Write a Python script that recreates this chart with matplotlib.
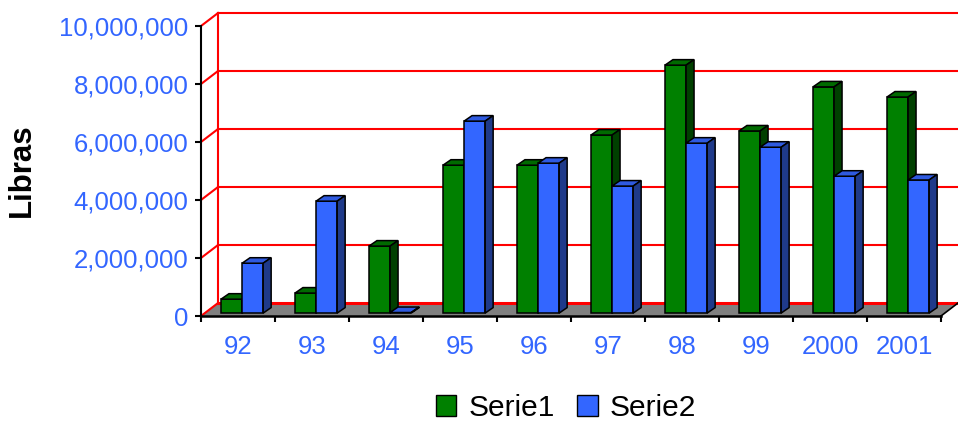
import numpy as np
import matplotlib.pyplot as plt
from matplotlib.patches import Polygon, Patch

plt.rcParams['font.family'] = ['Liberation Sans', 'DejaVu Sans']

# data (values in millions of libras)
years = ['92', '93', '94', '95', '96', '97', '98', '99', '2000', '2001']
serie1 = [0.48, 0.69, 2.31, 5.10, 5.10, 6.14, 8.55, 6.28, 7.80, 7.45]
serie2 = [1.72, 3.86, 0.02, 6.62, 5.17, 4.38, 5.86, 5.72, 4.72, 4.59]
yticks = [0, 2, 4, 6, 8, 10]

# fake 3d geometry (data units: 1 category wide, 1 = 1,000,000)
wall_dx, wall_dy = 0.23, 0.448   # back wall offset
bar_dx, bar_dy = 0.108, 0.19      # bar depth
off_dx, off_dy = 0.05, 0.1        # bars sit a bit behind the front edge
bar_w = 0.285
bar_x0 = 0.22

green = ('#008000', '#006a00', '#004000')   # front, top, side
blue = ('#3366ff', '#2f5ae0', '#1f3a8a')
lblue = '#3366ff'

fig = plt.figure(figsize=(9.58, 4.25), dpi=100)
ax = fig.add_axes([201/958, 109/425, 757/958, 306/425])
n = len(years)
ax.set_xlim(0, n + wall_dx)
ax.set_ylim(0, 306/29)

# floor
ax.add_patch(Polygon([(0, 0), (n, 0), (n + wall_dx, wall_dy), (wall_dx, wall_dy)],
                     closed=True, fc='#808080', ec='none', zorder=1))
ax.plot([n, n + wall_dx], [0, wall_dy], color='black', lw=1.2, zorder=2)

# back wall grid + left wall diagonals
for v in yticks:
    ax.plot([wall_dx, n + wall_dx + 0.1], [v + wall_dy, v + wall_dy], color='red',
            lw=2.2 if v == 0 else 1.5, zorder=1.5, clip_on=False)
    ax.plot([0, wall_dx], [v, v + wall_dy], color='red', lw=1.5, zorder=1.5)
ax.plot([wall_dx, wall_dx], [wall_dy, yticks[-1] + wall_dy], color='red', lw=1.5, zorder=1.5)


def box(x, h, cols):
    x0 = x + off_dx
    y0 = off_dy
    ax.bar(x0, h, width=bar_w, bottom=y0, align='edge', color=cols[0],
           edgecolor='black', linewidth=1.1, zorder=3)
    top = [(x0, y0 + h), (x0 + bar_w, y0 + h),
           (x0 + bar_w + bar_dx, y0 + h + bar_dy), (x0 + bar_dx, y0 + h + bar_dy)]
    side = [(x0 + bar_w, y0), (x0 + bar_w + bar_dx, y0 + bar_dy),
            (x0 + bar_w + bar_dx, y0 + h + bar_dy), (x0 + bar_w, y0 + h)]
    ax.add_patch(Polygon(top, closed=True, fc=cols[1], ec='black', lw=1.1, zorder=3))
    ax.add_patch(Polygon(side, closed=True, fc=cols[2], ec='black', lw=1.1, zorder=3))


for i in range(n):
    box(i + bar_x0, serie1[i], green)
    box(i + bar_x0 + bar_w, serie2[i], blue)

# axes
for s in ['top', 'right']:
    ax.spines[s].set_visible(False)
ax.spines['left'].set_bounds(0, yticks[-1])
ax.spines['bottom'].set_bounds(0, n)
ax.spines['left'].set_linewidth(1.5)
ax.spines['bottom'].set_linewidth(1.8)
ax.spines['left'].set_zorder(4)
ax.spines['bottom'].set_zorder(4)

ax.set_yticks(yticks)
ax.set_yticklabels(['{:,}'.format(v * 1000000) for v in yticks])
ax.set_xticks(np.arange(n + 1))
ax.set_xticklabels([])
ax.set_xticks(np.arange(n) + 0.5, minor=True)
ax.set_xticklabels(years, minor=True)
ax.tick_params(axis='both', which='major', direction='out', length=4, width=1.5,
               color='black', labelsize=18.5, labelcolor=lblue, pad=5)
ax.tick_params(axis='x', which='minor', length=0, labelsize=18.5, labelcolor=lblue, pad=14)

fig.text(0.023, 0.60, 'Libras', rotation=90, fontsize=22.5, fontweight='bold',
         ha='center', va='center')

handles = [Patch(fc=green[0], ec='black', lw=1.0), Patch(fc=blue[0], ec='black', lw=1.0)]
fig.legend(handles, ['Serie1', 'Serie2'], loc='center', bbox_to_anchor=(566/958, 1 - 408/425),
           ncol=2, frameon=False, fontsize=21.5, handlelength=0.69, handleheight=0.69,
           handletextpad=0.4, columnspacing=0.75, borderpad=0)

fig.savefig('out.png', dpi=100)
